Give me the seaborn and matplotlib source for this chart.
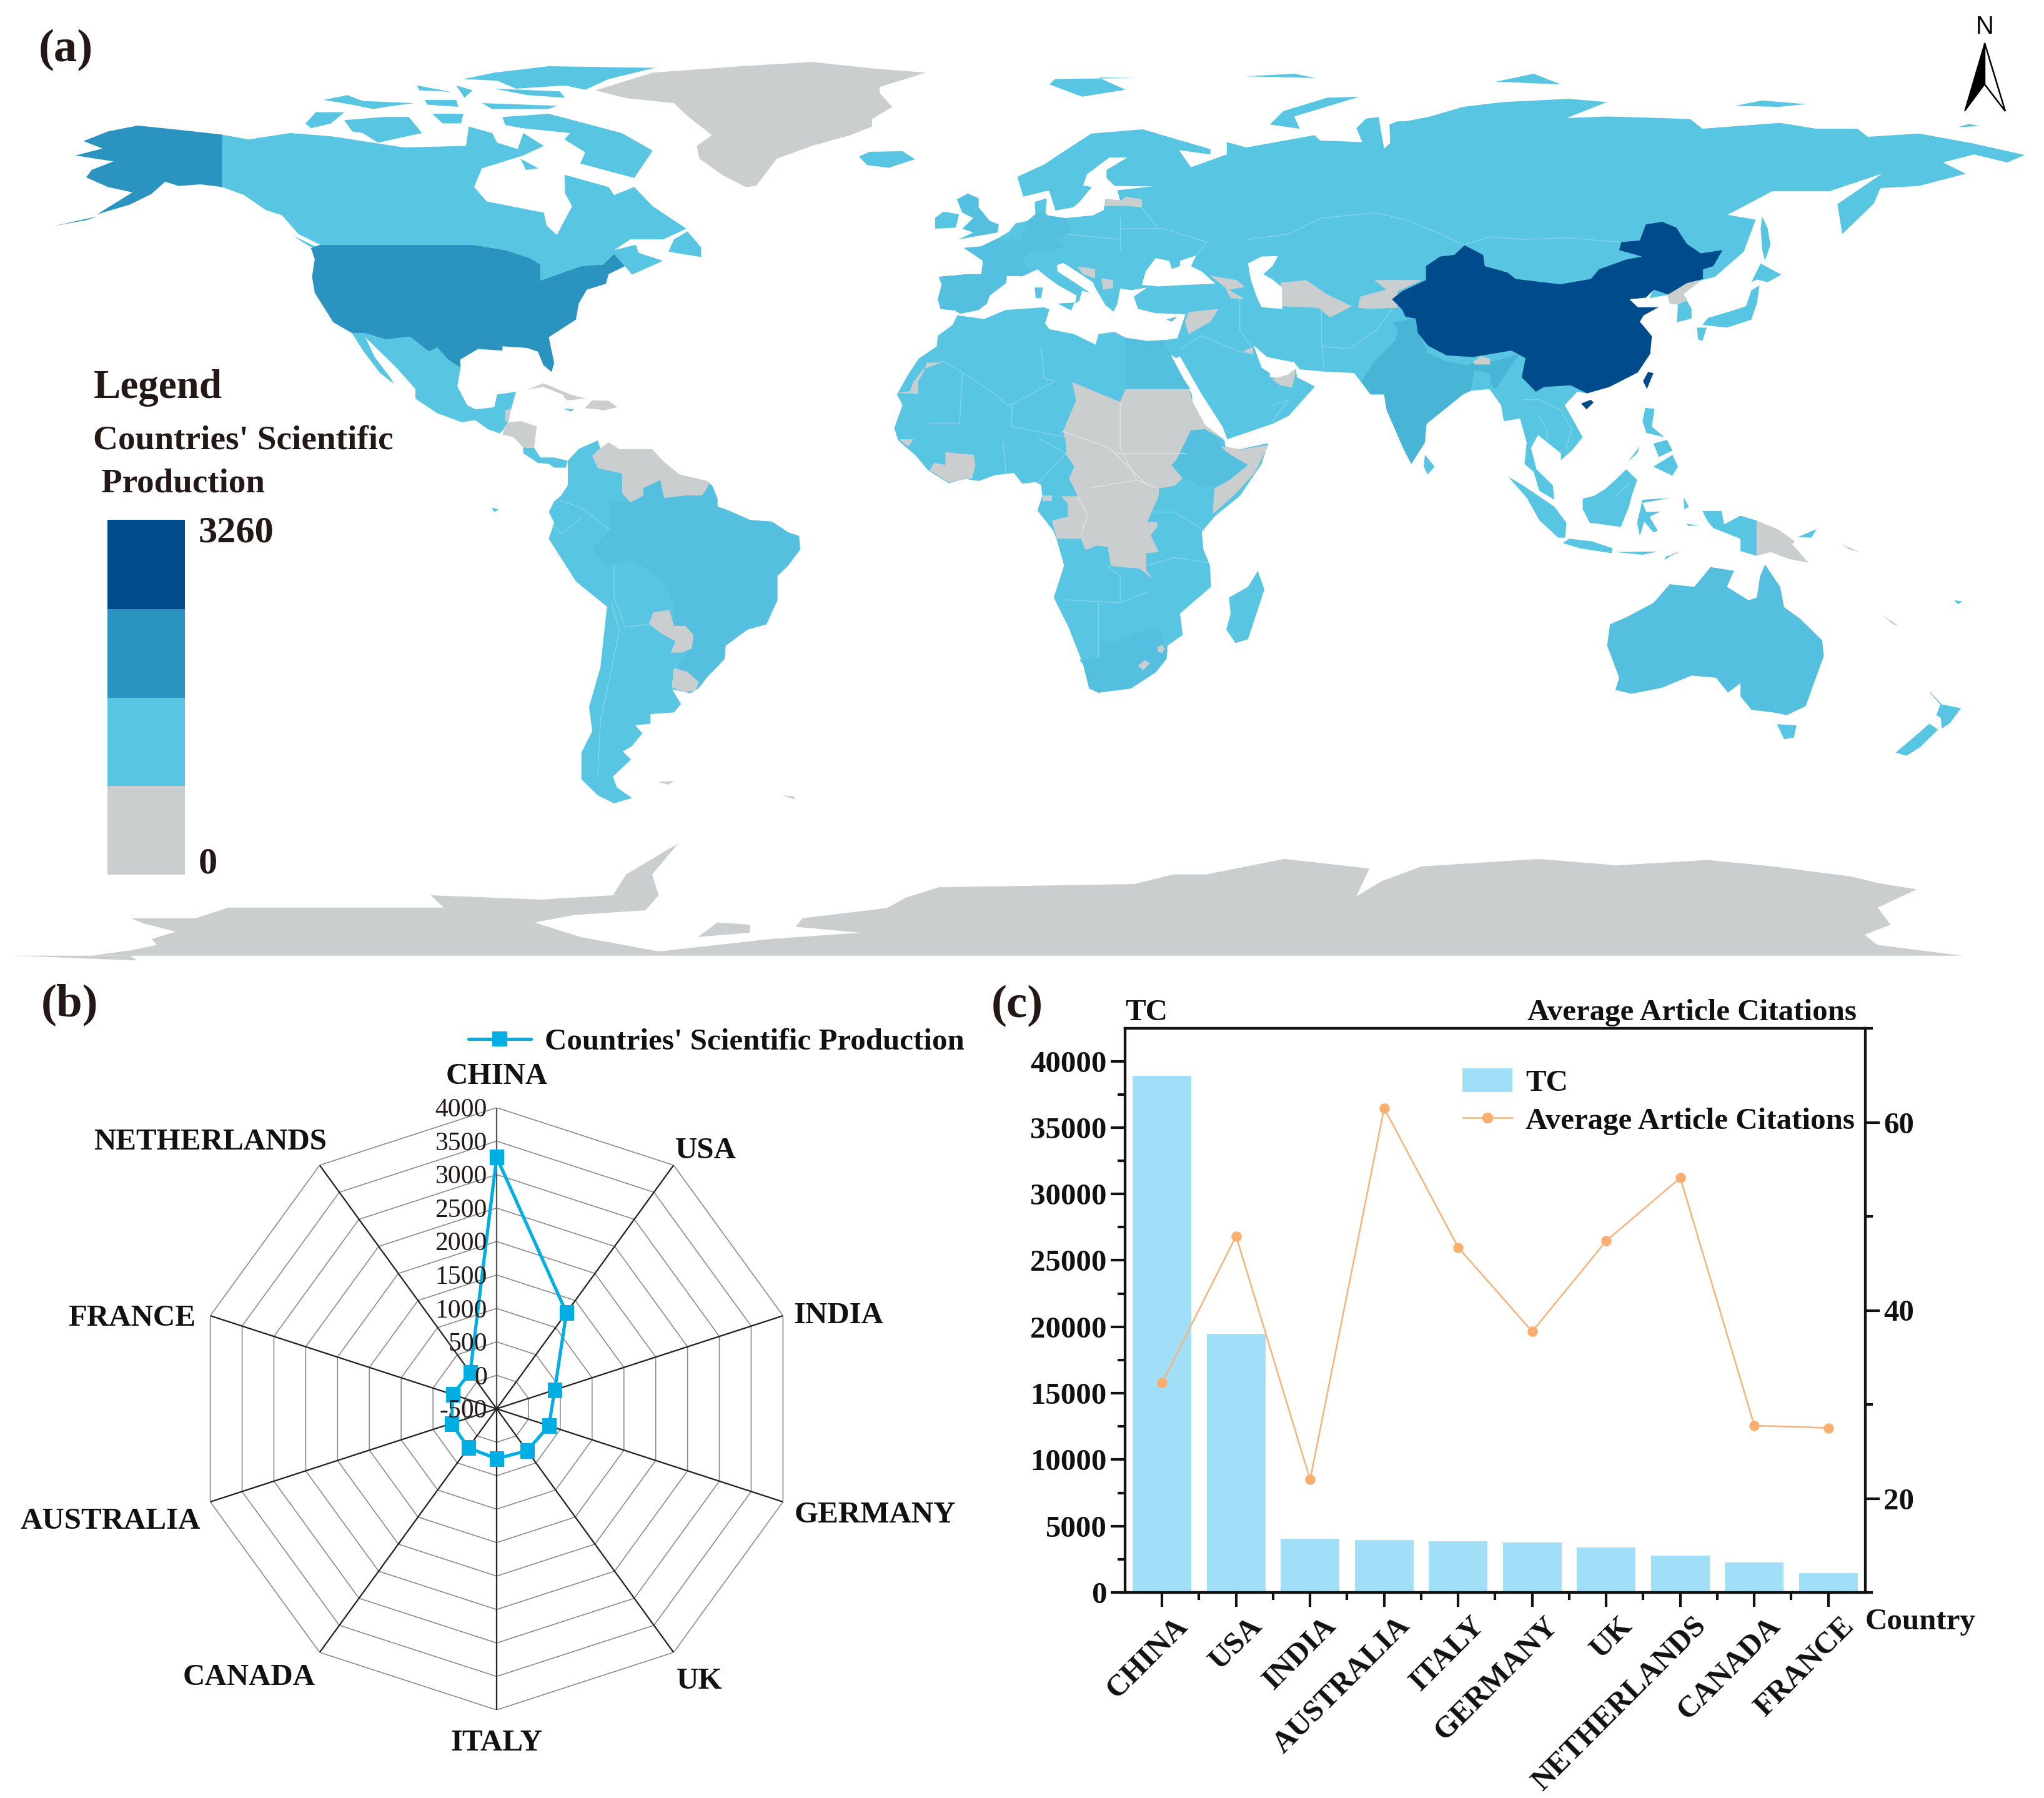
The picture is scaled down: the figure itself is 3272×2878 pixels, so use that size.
import numpy as np
import matplotlib
matplotlib.use("Agg")
import matplotlib.pyplot as plt
from matplotlib.lines import Line2D
from matplotlib.patches import Patch, Rectangle, Polygon
from matplotlib.transforms import ScaledTranslation
import seaborn as sns

# ---------- chart values ----------
RADAR_COUNTRIES = ["CHINA", "USA", "INDIA", "GERMANY", "UK", "ITALY", "CANADA", "AUSTRALIA", "FRANCE", "NETHERLANDS"]
RADAR_VALUES = [3260, 1275, 413, 322, 275, 245, 220, 210, 190, 172]
RADAR_TICKS = [-500, 0, 500, 1000, 1500, 2000, 2500, 3000, 3500, 4000]

BAR_COUNTRIES = ["CHINA", "USA", "INDIA", "AUSTRALIA", "ITALY", "GERMANY", "UK", "NETHERLANDS", "CANADA", "FRANCE"]
TC_VALUES = [39000, 19550, 4150, 4030, 3950, 3870, 3500, 2870, 2350, 1550]
AAC_VALUES = [32.3, 47.9, 22.0, 61.5, 46.7, 37.75, 47.4, 54.1, 27.75, 27.5]

LEGEND_COLORS = ["#004B8B", "#2B93BF", "#58C5E2", "#CBCECE"]
DARK, MID, LIGHT, GREY = LEGEND_COLORS
SHADE = "#55BFDF"
INDIA_C = "#48B5D6"

# ---------- map outlines (longitude, latitude) ----------
ALASKA = [(-141,69.6),(-148,70.4),(-156.5,71.3),(-162,70.2),(-166.5,68.4),(-163,67),(-168,65.7),(-161,64.6),(-165,63),(-166,61.6),(-162,59.8),(-157.5,58.8),(-164,54.7),(-158,56.5),(-154,58.5),(-151.5,60.8),(-149,60),(-145,60.3),(-141,59.8)]
ALEUTIANS = [(-172,52.5),(-164,54.3),(-166,53.6)]
CANADA = [(-141,69.6),(-136.2,68.7),(-128.5,69.9),(-121,69.3),(-107.6,67.2),(-96.2,67.5),(-95.7,71.1),(-91.4,69.9),(-90.5,68.1),(-86.7,66.9),(-85.7,69.9),(-81.9,67.5),(-85.7,65.7),(-93.3,63.3),(-94.7,59.8),(-92.4,57.1),(-81.9,55),(-81.4,52.6),(-79.5,50.8),(-78.6,52.6),(-76.7,56.2),(-78,58.6),(-78.1,62.1),(-70,59.8),(-69,58.3),(-65.3,59.8),(-61.9,56.2),(-55.7,52),(-60,50),(-66,50),(-69,48),(-65,49),(-64.5,47.5),(-60,46),(-65.7,43.4),(-67,45),(-69,47.3),(-71,45.3),(-75,45),(-79,43.6),(-82.5,42.3),(-82.5,45.3),(-84.5,46.5),(-89,48),(-95,49),(-123,49),(-127,51),(-130,54.5),(-133,55.5),(-137,58.3),(-141,59.8)]
BAFFIN = [(-89.5,72.9),(-81,73.5),(-67.6,69.9),(-61.9,66.6),(-65.3,61.5),(-75.2,64.2),(-74.3,66.3),(-78.1,68.7),(-77.1,69.9),(-85.7,70.8),(-89,71.4)]
VICTORIA = [(-118.6,72.3),(-111.4,72.9),(-106.7,72.9),(-104.3,69.9),(-112.4,68.1),(-115.2,69.9),(-117.1,70.2)]
BANKS = [(-125.7,71.7),(-123.8,73.8),(-118.6,73.8),(-121,71.7),(-124.7,70.8)]
ELLESMERE = [(-61.5,82.1),(-81,82.4),(-91,81.2),(-96.7,80),(-90.5,79.7),(-87,78.2),(-78,78.8),(-74.3,78),(-70,80)]
DEVON = [(-93.3,75.5),(-79.5,75),(-81,74.4),(-91.4,74.4)]
SOUTH_ELLESMERE = [(-91,78.2),(-85,77),(-78,76.5),(-79,77.7)]
RINGNES = [(-105.2,78.8),(-99,77.6),(-104.8,77.9)]
AMUND = [(-98,78.8),(-95,77.9),(-96.5,76.5)]
MELVILLE = [(-122.4,76.1),(-118,77),(-115.2,75.9),(-105.7,75.5),(-109.5,75),(-113.3,74.4),(-117.1,75.2)]
BATHURST = [(-103.8,76.1),(-98,76.1),(-97.6,74.8),(-103.3,75.2)]
SOMERSET = [(-102.4,73.5),(-96.7,73.5),(-97.1,71.7),(-100.5,71.7)]
SOUTHAMPTON = [(-86.2,65.1),(-82.9,63.3),(-85.2,63)]
NEWFOUNDLAND = [(-59,47.7),(-53,46.7),(-53,48.5),(-55.5,51.5),(-58,50)]
VANCOUVER = [(-128,50.7),(-123.5,48.5),(-125,48.7)]
USA48 = [(-123,49),(-95,49),(-89,48),(-84.5,46.5),(-82.5,45.3),(-82.5,42.3),(-79,43.6),(-75,45),(-71,45.3),(-69,47.3),(-67,45),(-70,43.5),(-70.5,41.7),(-74,40.6),(-75.5,38),(-76,35),(-81,31.7),(-80,26.9),(-80.5,25.2),(-82,26.5),(-83,29),(-85,29.7),(-89.5,30),(-89.5,29.2),(-94,29.5),(-97.3,27.5),(-97.2,26),(-99.5,27.5),(-101.5,29.8),(-103,29),(-106.5,31.8),(-111,31.3),(-114.8,32.5),(-117.2,32.5),(-120.6,34.5),(-124,40),(-124.5,43),(-124,46.3),(-124.7,48.4)]
MEXICO = [(-117.2,32.5),(-114.8,32.5),(-111,31.3),(-106.5,31.8),(-103,29),(-101.5,29.8),(-99.5,27.5),(-97.2,26),(-97.8,22.5),(-96,19),(-94.5,18.2),(-91,18.6),(-90.5,21),(-87,21.5),(-88,18),(-88.5,16),(-88.5,15.8),(-89.3,14.5),(-90,13.7),(-92.2,14.5),(-94.5,16.2),(-97,15.8),(-101.5,17.5),(-105.5,20.2),(-105.5,22),(-109,26),(-112.5,29.5),(-114.7,31.7),(-113,28),(-110,24),(-109.5,23),(-112,25),(-115,29)]
CENTRAL_GREY = [(-89.3,14.3),(-88.5,15.8),(-86,16),(-83.2,15),(-83.7,11),(-85.7,11.1),(-87.5,13),(-89.5,13.5)]
BELIZE = [(-89,15.9),(-88.3,16),(-88,18.4),(-89,18)]
PANAMA = [(-85.7,11.1),(-83.7,11),(-82.5,9.2),(-80,9.2),(-77.5,8.6),(-77.9,7.3),(-80,7.3),(-81,8),(-83,8.2),(-85.7,10)]
CUBA = [(-84.9,21.9),(-82,23.1),(-77,21),(-74.2,20.2),(-77.7,19.9),(-78.5,21),(-82,22.4)]
HISPANIOLA = [(-74.4,18.4),(-73,19.9),(-70,19.8),(-68.4,18.6),(-71,18),(-72,18.2)]
JAMAICA = [(-78.3,18.4),(-76.3,18.2),(-77,17.8)]
GALAPAGOS = [(-91.5,-0.2),(-90.2,-0.5),(-91,-1)]
FALKLAND = [(-61,-51.5),(-58,-51.3),(-59,-52)]
SOUTH_GEORGIA = [(-38,-54),(-36,-54.2),(-35.7,-54.8)]
SOUTH_AMERICA = [(-77.5,8.6),(-75.5,10.8),(-72,12.4),(-71.5,10.8),(-70,12),(-68,10.7),(-62,10.7),(-60,8.5),(-57,6),(-52,4.8),(-51,4),(-50,1.5),(-50,0),(-48,-0.7),(-44,-2.5),(-40,-2.8),(-37,-4.8),(-35,-5.5),(-34.8,-8),(-37,-11),(-39,-13),(-39,-17.5),(-41,-22),(-44.5,-23),(-48.5,-26),(-48.7,-28.5),(-52,-32),(-53.5,-34),(-55,-34.9),(-58.3,-34.2),(-56.7,-36.9),(-58,-38.5),(-62.3,-38.8),(-62.3,-40.6),(-65.1,-40.9),(-63.8,-42.4),(-65.7,-44.8),(-67.4,-45.8),(-65.9,-47.3),(-69.2,-50.5),(-68.5,-52.5),(-65.7,-54.5),(-69,-55.5),(-72,-54),(-75,-51),(-75,-46),(-73,-42),(-73.6,-37.5),(-71.5,-30),(-70.3,-18.7),(-76,-14),(-81,-6),(-80,-3),(-81,-1),(-80,1),(-78.8,2),(-77.5,4),(-77.5,7)]
BRAZIL = [(-51.5,4.2),(-52.8,2.1),(-55.9,2.1),(-59.8,1.6),(-60.5,5),(-63.6,3.5),(-63.6,2.1),(-66,0.8),(-69.5,1),(-69.5,-4.3),(-73,-7.5),(-70.5,-11),(-65.5,-10),(-60,-14),(-58,-18),(-58,-22.3),(-55.9,-22.3),(-54.4,-24),(-54.7,-26.5),(-57.5,-30),(-53.4,-32.8),(-53.5,-34),(-52,-32),(-48.7,-28.5),(-48.5,-26),(-44.5,-23),(-41,-22),(-39,-17.5),(-39,-13),(-37,-11),(-34.8,-8),(-35,-5.5),(-37,-4.8),(-40,-2.8),(-44,-2.5),(-48,-0.7),(-50,0),(-50,1.5),(-51,4)]
VENEZUELA_GUIANAS = [(-71.7,10.8),(-70,12),(-68,10.7),(-62,10.7),(-60,8.5),(-57,6),(-52,4.8),(-51.5,4.2),(-52.8,2.1),(-55.9,2.1),(-59.8,1.6),(-60.5,5),(-63.6,3.5),(-63.6,2.1),(-66,0.8),(-67.5,2.5),(-67.5,6.2),(-72,7.2),(-73,9.5)]
PARAGUAY = [(-62.6,-21.9),(-61.8,-19.8),(-58.8,-19.3),(-58,-22.3),(-55.9,-22.3),(-54.4,-24),(-54.7,-26.5),(-56.5,-27.3),(-58.6,-27.3),(-57.7,-25.2),(-60.5,-23.6)]
URUGUAY = [(-58,-30.2),(-55.5,-30.9),(-53.4,-32.8),(-54.1,-34.4),(-56.1,-34.7),(-58.4,-33.8)]
GREENLAND = [(-72.4,77.9),(-61.9,81.2),(-45.7,82.4),(-32.6,83.2),(-21.6,82),(-11.7,81.2),(-20.2,78.5),(-20.2,77.4),(-17.9,74.8),(-21.6,72.5),(-21.6,71.1),(-25.6,69.5),(-32.6,67.5),(-39.1,65.1),(-42.9,60),(-44.8,59.8),(-49,62),(-53.3,65.1),(-53.8,67.5),(-51,69.5),(-55.3,72.9),(-58,75.5),(-66.7,76.4)]
ICELAND = [(-24,65.5),(-22,66.4),(-16,66.5),(-13.7,65),(-18.5,63.4),(-22.5,63.9)]
SVALBARD = [(11,79),(17,76.7),(25,78),(20,80.3),(27,80.2),(12,80)]
NOVAYA_ZEMLYA = [(51.5,71.5),(57,70.7),(56,73),(68,76.7),(62,76.5),(54,74)]
FRANZ_JOSEF = [(47,80.5),(60,80.2),(56,81)]
SEVERNAYA = [(93,79.5),(105,79),(100,81)]
NEW_SIBERIA = [(137,75),(145,74.8),(150,75.3),(142,76)]
WRANGEL = [(178,71),(182,71.2),(180,71.6)]
EURASIA = [(-9,37),(-9.5,38.8),(-8.8,41.5),(-9.3,43),(-4,43.5),(-1.5,43.5),(-1.2,46),(-4.7,48.4),(-1.5,48.7),(1.5,50.2),(3.5,51.4),(4.8,53),(8.5,53.8),(8.3,57),(10.5,57.7),(10.3,55),(11,54),(14,54),(19,54.5),(21,55.5),(21.3,57.5),(24,57.2),(23.5,59.2),(28,59.7),(30,59.9),(23,60),(21.5,61.5),(21.5,63),(25.3,65.3),(22,65.3),(17.9,62.2),(17.2,60.1),(18.8,59.8),(16.5,57),(15.4,56),(12.1,55.4),(11,59),(10.6,59.1),(6.2,58),(5.1,61.7),(10,64),(12.8,65.9),(18.7,69.8),(28.2,70.6),(31.8,69.5),(40.6,66.9),(40.6,65.9),(34.8,66.7),(37,63.5),(43.6,65.9),(43.6,68.2),(47.2,67.2),(59.7,69.5),(60.8,68.5),(68.5,68.2),(67.4,70.8),(69.2,72.6),(71.5,72.9),(72.5,67),(73.6,68),(73.5,71.5),(75,72.1),(76.5,72.1),(81,73),(87,74.8),(94.4,75.7),(106.4,76.3),(113.5,75.7),(106,72.7),(113.5,73),(123.6,72.7),(128.8,72.5),(131,70.7),(138.6,71.3),(145.3,71.8),(152,70.7),(159.5,70.7),(161.4,69.2),(170.8,69.8),(180.5,68),(190.2,65.8),(187,64.4),(180.9,65.9),(175.2,64.4),(179.4,62.3),(170.8,60),(163.7,59.6),(162.5,56.7),(156.7,51),(155.8,56.6),(164,62.3),(154.3,59),(143.8,59),(135.6,54.6),(140.8,53.7),(138.6,47.7),(133.3,43),(130.7,42.3),(127.5,39.8),(129,37),(129,35.2),(126.3,34.5),(126.5,37.7),(125,39.7),(121.3,39),(122,40.7),(117.6,38.8),(119.1,37.3),(122.9,37.3),(120.2,35.8),(119.5,34.6),(121.7,31.9),(121.4,28.6),(119.1,25.1),(113.9,22.4),(109.8,21.2),(108,21.5),(105.7,19),(109,13),(107,10.5),(105,8.7),(105,10),(102.5,12),(100.8,13.4),(99.5,11),(100.5,7),(103.5,4),(103.8,1.3),(101,3),(100,6.5),(98.3,8),(98.7,12),(97.5,16.5),(94.5,16),(94,19),(91.5,22.5),(88,21.7),(87,21),(80.3,15.5),(80,12),(77.5,8),(76,11),(73,18),(72.5,21),(70,21),(67,25),(61,25.3),(57,25.7),(56,27),(51,28),(48.5,30.2),(50,26),(51.5,25),(51.5,24.2),(54,24),(56.3,25.8),(56.5,24.2),(59.8,22.5),(55,17),(52,15.5),(43.7,12.6),(42.8,15),(39,21),(35,28.1),(34.3,27.8),(33.2,28.5),(32.6,30),(32.3,31.2),(34.5,31.5),(36,36),(33,36.1),(30.5,36.2),(27.3,37),(26.5,39.3),(29,41),(26,40.5),(24,40.8),(23.5,38),(22.8,36.5),(21.3,37.7),(19.4,41),(19,42),(14.5,45),(13.5,45.6),(12.4,45.2),(12.5,44),(16,41.7),(18.5,40),(17,40.4),(16.5,38.5),(15.7,38),(16,39.5),(12.5,41.5),(10.5,43),(8.8,44.4),(6,43.1),(3.2,43.2),(3,41.8),(0,39.5),(-0.5,38),(-2,36.8),(-5.4,36.1),(-6.3,36.7)]
BLACK_SEA = [(28,41.5),(31,41.2),(36,41.5),(41.5,41.7),(39,44),(37,45),(38,47),(35,46),(35,45),(33.5,44.5),(33,46),(30.5,46.5),(28.7,44)]
CASPIAN = [(47.5,45.5),(50,46.8),(53,46.9),(52,45),(50.3,43.5),(52,42.5),(53.8,41),(53.8,37),(50,37.3),(49,39.5),(48,42.5)]
CHINA = [(73.96,38.8),(75.8,40.3),(80.2,42.4),(80.2,45),(82.8,46.8),(85.4,47.1),(87.3,48.9),(90.7,47.1),(91,45),(95.2,43.8),(96.7,42.6),(104.9,41.6),(110.5,42.6),(112,44.4),(116.9,46.2),(119.9,46.8),(115.7,48),(116.1,49.5),(119.5,49.8),(120.6,52.8),(123.6,53.3),(126.2,52.2),(128.1,49.2),(130.7,47.4),(134.7,48),(133,45),(131.1,44.4),(131.1,42.6),(128.1,41.8),(124.7,39.7),(122.1,40.6),(120.6,39.1),(117.6,38.8),(119.1,37.3),(122.9,37.3),(120.2,35.8),(119.5,34.6),(121.7,31.9),(121.4,28.6),(119.1,25.1),(113.9,22.4),(109.8,21.2),(106.8,22.7),(101.9,22.4),(100.4,21.5),(97.8,24.2),(98.5,27.8),(95.9,29.2),(88.8,28),(84,28.3),(80.6,30.1),(78.7,32.5),(78.3,35.2),(76.45,35.5),(75.8,36.9)]
TAIWAN = [(121,25.2),(122,25),(120.8,22),(120.1,23.5)]
HAINAN = [(108.7,19.3),(110.5,20),(111,19.5),(109.7,18.2)]
INDIA = [(74,34.5),(78.3,35.2),(78.7,32.5),(80.6,29),(88,26.5),(89,27),(92,27),(97.3,28.5),(95,25),(93,22),(92,23),(89,25),(88.5,21.7),(87,21),(80.3,15.5),(80,12),(77.5,8),(76,11),(73,18),(72.5,21),(70,21),(68.3,23.5),(71,27.5),(74.5,31),(75,33)]
BANGLADESH = [(88.5,21.7),(89,25.5),(92,25),(92,22)]
NEPAL = [(80.6,30),(84,28.3),(88.2,27.8),(88.1,26.4),(84,27.2),(80.2,28.8)]
BHUTAN = [(88.9,27.1),(90.3,28.2),(91.9,27.7),(92,26.6),(89.1,26.6)]
NORTH_KOREA = [(124.4,40),(126,41.5),(128,42),(130.7,42.3),(127.5,39.8),(128.3,38.6),(126.5,37.8),(125,38)]
SYRIA = [(36.6,36.4),(42.1,37),(40.6,34.6),(36.6,32.3),(35.9,34.6)]
TURKMENISTAN = [(53.5,41.9),(58.2,42.4),(61.9,39.8),(66.6,37.5),(62.6,35.4),(60.4,37.2),(53.8,37.5),(53.8,40.3)]
KYRGYZ_TAJIK = [(70.7,42.4),(79.5,42.4),(75,40.3),(75,37.2),(70,37),(67.7,37.2),(68.1,39.3),(72.9,40.6)]
CAUCASUS = [(40.6,43.2),(45.4,42.4),(46.9,41.1),(44,40.6),(46.9,38.8),(44.3,39),(43.3,41)]
BOSNIA = [(16.1,44.9),(19.4,44.5),(19.4,42.7),(17.2,43.5)]
MACEDONIA = [(20.5,42.7),(22.7,42.4),(22.7,40.9),(20.9,40.6)]
LATVIA = [(21,56.2),(21.5,57.6),(24.3,57.3),(25,58),(28,57.5),(28,56),(25,56.3)]
UAE = [(51.9,23.85),(54.8,24.7),(56.4,25.9),(55.6,22.3),(53.4,22.7)]
KUWAIT = [(46.6,29.1),(48.4,29.8),(48.4,28.4)]
GERMANY = [(6,51),(7,53.5),(8.5,54.8),(14,54),(15,51),(12,50),(13.8,48.7),(10,47.5),(7.5,47.6),(6,49.5)]
FRANCE = [(-4.7,48.4),(-1.5,48.7),(1.5,50.2),(4,50),(8,49),(7.5,47.6),(6,46),(7.5,43.8),(6,43.1),(3.2,43.2),(3,42.4),(-1.5,43.4),(-1.2,46)]
SPAIN = [(-9,37),(-9.5,38.8),(-8.8,41.5),(-9.3,43),(-4,43.5),(-1.5,43.5),(3,42.4),(3,41.8),(0,39.5),(-0.5,38),(-2,36.8),(-5.4,36.1),(-6.3,36.7)]
SICILY = [(12.5,38),(15.6,38.2),(15,36.7)]
SARDINIA = [(8.3,41),(9.8,41),(9.5,39),(8.5,39)]
CYPRUS = [(32.5,35),(34.5,35.6),(33.5,34.6)]
BRITAIN = [(-5.7,50),(1.5,51.3),(1.7,52.8),(0,53.5),(-2,56),(-2,57.7),(-4,58.6),(-6,57.5),(-5,55),(-3,54),(-5,52),(-3,51.3)]
IRELAND = [(-10,52),(-6.2,52.2),(-5.6,54.7),(-8.5,55.2),(-10,54)]
HONSHU = [(131,34),(135.5,33.5),(140,35),(141,38),(141.5,41.4),(140,40.5),(139,37.5),(136,36.5),(132,35.3)]
KYUSHU = [(130,33.5),(131.8,33.5),(131,31),(130.2,31.3)]
HOKKAIDO = [(140,42),(141.7,45.5),(145.5,43.4),(143,42),(141,42.5)]
SAKHALIN = [(142,54.3),(143,52),(143.5,49),(142.5,46),(142,48),(141.7,52)]
LUZON = [(120.5,18.5),(122.2,18.3),(121.7,15),(124,13),(120.7,13.8),(120,16)]
VISAYAS = [(122,11.8),(124.5,12.5),(125.5,10.5),(123,9.3)]
MINDANAO = [(122,7.5),(125.5,9.7),(126.5,7.5),(125.5,5.8),(124,6.5)]
PALAWAN = [(117.3,8.4),(119.5,11.3),(119,10)]
BORNEO = [(109,1.5),(111,2),(113,3.2),(115,5),(117,7),(119,5),(118,2),(117.5,0),(116,-3.8),(114,-3.5),(110.3,-3),(109,-0.5)]
SUMATRA = [(95.3,5.6),(98,4),(103.8,0),(106,-3),(105.8,-5.8),(104.5,-5.8),(101,-2.5),(98.7,1.7)]
JAVA = [(105.3,-6.8),(106.5,-6),(110.8,-6.5),(114.5,-7.8),(114.3,-8.7),(108.5,-7.8)]
SULAWESI = [(119.5,-5.5),(120.3,-2.8),(122,-4.8),(122.8,-4.5),(121.3,-1.9),(123.3,-0.9),(120.7,-1),(120,0.7),(125,1.6),(120,1.3),(119,-3)]
PAPUA = [(131,-0.8),(134.5,-0.8),(135,-3.3),(138,-1.7),(141,-2.6),(141,-9.2),(138,-8.3),(138,-6),(133,-4),(132,-2.8)]
PNG = [(141,-2.6),(145,-4.3),(148,-6.5),(147.5,-7),(150.5,-10.5),(147,-9.8),(143.5,-8.5),(141,-9.2)]
NEW_BRITAIN = [(148.5,-5.7),(152,-4.2),(151,-5.8)]
SUNDA = [(115,-8.5),(120,-8.4),(122.8,-8.4),(120,-9)]
TIMOR = [(124,-10),(125.5,-9),(124.3,-9.3)]
EAST_TIMOR = [(125,-9.4),(127,-8.4),(125.5,-8.7)]
HALMAHERA = [(127.5,1.8),(128.5,0),(127.7,-0.5)]
CERAM = [(128,-3.2),(130.5,-3.5),(128.5,-3.6)]
SRI_LANKA = [(80,9.7),(81.8,7.5),(80.5,6),(79.8,7.5)]
AUSTRALIA = [(114,-22),(113.5,-26),(115.7,-32),(115,-34.3),(118,-35),(123.5,-33.9),(129,-31.6),(133.5,-32),(135.7,-34.8),(138,-33),(138,-35.5),(140,-38),(144,-38.5),(146.5,-39),(150,-37.3),(151.5,-33),(153.3,-28),(153,-25),(149,-21),(146,-18.8),(145.3,-15),(142.5,-10.8),(141.6,-13),(141,-17),(139.5,-17.5),(135.5,-15),(136.8,-12),(132.5,-11.3),(129.5,-15),(125,-14.5),(122,-18),(117,-20.7)]
TASMANIA = [(144.7,-40.7),(148.3,-40.9),(147.8,-43.2),(146,-43.5)]
NZ_NORTH = [(172.7,-34.5),(175,-37),(178.5,-37.7),(176.5,-40.5),(175,-41.5),(174.8,-39.5),(174,-39),(174.7,-37),(173,-35)]
NZ_SOUTH = [(172.7,-40.6),(174.3,-41.7),(171,-45),(168.5,-46.6),(166.5,-46),(170,-43)]
NEW_CALEDONIA = [(164,-20.2),(167,-22.3),(166,-22)]
FIJI = [(177.3,-17.5),(178.7,-17.7),(178,-18.3)]
SOLOMON = [(156.5,-7),(160,-8.5),(158,-8)]
MADAGASCAR = [(49.3,-12),(50.5,-15.5),(47.5,-24.8),(45.2,-25.5),(43.5,-23),(44.3,-20),(44,-17),(47.5,-15)]
AFRICA = [(-5.9,35.8),(-1,35.1),(3,36.8),(10,37.3),(11,36.9),(10.2,34.3),(11,33.2),(15.5,32.3),(19.5,30.3),(20,32.3),(23,32.7),(25,31.6),(29,31),(32.3,31.2),(32.6,30),(33.6,27.8),(35.6,24),(37.2,21),(37.3,18.6),(39.5,15),(43.2,12.4),(43.3,11.4),(44.5,10.4),(51.2,11.9),(50,8),(46,2),(41.5,-1.7),(39,-4.7),(39.3,-8),(40.5,-11),(40.7,-15),(35,-20),(35.5,-24),(32.7,-26),(32.5,-28.5),(30.5,-31),(26,-34),(20,-34.8),(18.3,-34),(17.2,-29.5),(14.5,-22.5),(11.8,-17),(13.7,-11),(12.3,-6),(11.7,-4.5),(8.8,-0.7),(9.7,2),(9.5,4),(8.5,4.6),(6,4.3),(4.5,6.3),(1,5.9),(-2,4.8),(-4.5,5.2),(-7.5,4.4),(-11.3,6.8),(-13.5,9.5),(-16.8,12.4),(-17.5,14.7),(-16,19),(-17,21),(-14.8,25),(-13,27.7),(-9.7,30),(-9.5,32),(-6.8,34)]
EGYPT = [(25,22),(36.9,22),(35.6,24),(33.6,27.8),(32.6,30),(32.3,31.2),(29,31),(25,31.6)]
ETHIOPIA = [(37,14.3),(39.6,14.5),(42.5,12.1),(42.8,10.7),(47.5,7.8),(44,4.9),(41.9,4.1),(39.3,3.6),(35.5,5.3),(33.4,7.8),(34.3,8.7)]
SOUTH_AFRICA = [(16.5,-28.6),(20,-28.4),(20,-24.8),(23,-25.3),(27,-23.6),(31.3,-22.4),(32,-25.8),(32.7,-26.9),(32.5,-28.5),(30.5,-31),(26,-34),(20,-34.8),(18.3,-34),(17.2,-29.5)]
CENTRAL_AFRICA = [(15.2,23.3),(24,19.6),(25,22),(36.7,22),(37.2,19.9),(39.6,15.3),(43.4,12.4),(39.6,14.5),(37,14.3),(34.3,8.7),(33.4,7.8),(35.5,5.3),(34,3.9),(31.1,3.4),(31.1,2),(29.6,-1.4),(29,-2.9),(29.6,-5.3),(31.1,-8.5),(28.8,-8.7),(28.8,-11.9),(30,-13.5),(27.6,-11.6),(22.3,-11.1),(21.7,-7.5),(19.7,-7.3),(17.6,-8.1),(16.8,-6),(12.4,-6),(11.8,-3.9),(11.5,-2.6),(13,-2.2),(14.4,-1.9),(14.4,0.5),(13.2,1.95),(16.2,1.95),(14.6,5.3),(15.6,7.5),(14.1,9.7),(14.1,11.6),(13.5,14.1),(15.9,19.9)]
EQ_GUINEA = [(9.7,2.05),(11.5,2.05),(11.5,1),(9.7,1)]
IVORY_COAST = [(-11,6.8),(-10.2,8.2),(-8.1,7.8),(-8.1,10.2),(-2.9,9.7),(-2.6,7.8),(-3.2,5.3),(-7.5,4.6)]
GUINEA_BISSAU = [(-16.6,12.6),(-14,12.6),(-14.9,11.2)]
WESTERN_SAHARA = [(-8.7,27),(-11.6,26.9),(-11.9,25.6),(-13.1,23.5),(-13.1,21.1),(-16.9,21.3),(-14.6,21.6),(-14,23.3),(-12.2,25.7)]
SOMALIA = [(42.5,11.2),(44.3,9.7),(47.5,7.8),(44,4.9),(41.3,3.4),(41,-1.4),(45.2,2.4),(48.7,6.3),(51.3,11.6),(49.2,11.2),(46.3,10.7),(43.4,11.2)]
LESOTHO = [(27.3,-29.8),(28.5,-28.7),(29.5,-29.3),(28.2,-30.6)]
ESWATINI = [(30.8,-26.4),(31.7,-25.8),(32.2,-26.6),(31.7,-27.4),(31,-27.1)]
BURUNDI = [(29,-2.9),(30.8,-2.9),(30.8,-3.9),(29.6,-5.3)]
ANTARCTICA = [(-165,-84),(-157.8,-83),(-153,-82),(-154,-80.9),(-149.5,-79.5),(-155.4,-78),(-157.8,-77),(-145.9,-77),(-139.9,-75),(-100.3,-75),(-102.7,-72.7),(-82.4,-73.5),(-69.2,-72.7),(-66.8,-68.8),(-57.2,-63),(-62,-68.8),(-60.8,-72.7),(-63.2,-75.5),(-76.4,-76.4),(-83.6,-77.8),(-75.2,-80.5),(-60.8,-83.2),(-40.4,-80.9),(-23.7,-79.7),(-35.6,-78.6),(-34.4,-77),(-18.9,-75.1),(-15.3,-73.1),(-9.3,-71.2),(26.6,-70.6),(33.8,-68.8),(39.8,-68.8),(54.2,-65.9),(69.8,-67.7),(67.4,-72.9),(72.2,-70),(79.4,-67.3),(100.9,-65.9),(115.3,-67.1),(132,-66.1),(144,-67.3),(158.4,-69.2),(163.2,-70.4),(170.4,-71.6),(163.2,-75),(165.6,-78.2),(160.8,-80.1),(163.2,-82),(178.8,-84)]
BERKNER = [(-50,-77.8),(-44,-78.2),(-44,-79.7),(-53.6,-80.5)]
ANTARCTIC_SLIVER = [(-179.4,-84),(-156.6,-84.9),(-158,-84)]

BORDER_LINES = [
    [(47.5,50),(55,51),(61,54),(71,55),(77,53.5),(83,51),(87,49)],
    [(87,49),(92,50.5),(98,50),(106,50.3),(116,49.5)],
    [(24,52),(32,52),(40,49.5),(38,47)], [(28,56),(31,52)], [(14,51),(24,50)], [(24,54),(24,48)],
    [(61,37),(61,31),(61.5,25.3)], [(61,30),(66,29.5),(71,33),(74,37)], [(46,38.8),(46,33),(48,30)],
    [(35,29.5),(39,32),(46,29),(48.5,28.5)], [(52,19),(55,20),(52,16)],
    [(-8.7,27.3),(-4.8,25),(1.2,20.9),(3.3,19),(4.2,19.2),(12,23.5)], [(-5,25),(-5.5,15.5),(-11.5,15.5)],
    [(4.2,19.2),(4,15),(14,13)], [(9.5,30),(10,24),(12,23.5)], [(2.5,12),(3,6.3)], [(9,12.8),(14,10),(9,4.5)],
    [(13.7,-17.4),(24,-18),(29,-16)], [(20,-18),(20,-28)], [(21.7,-11.1),(24,-13),(24,-17.8)], [(29,-11),(34,-9.5),(40,-10.5)], [(29,-1),(34,-1),(39.5,-4.5)],
    [(-69,-11),(-69,-17),(-67,-22.5),(-62.6,-22)], [(-69.5,-18),(-68,-23),(-70,-33),(-71.5,-40),(-72,-50)], [(-79,1.2),(-75,-0.2),(-70,-4.2)], [(-80.5,-3.4),(-78.5,-5),(-75,-2)],
    [(98,20),(101,20),(105,18),(107,14.5),(106,11)], [(101,17),(102.5,14),(102.5,12)], [(115,2),(117.5,4.2)],
]
WHITE_LINES = [[(24,19.6),(24,11),(27,5)], [(13.5,14.1),(22,11),(29,4)], [(23,10),(36,10)], [(18.5,3.5),(27,5),(31,3.4)], [(16.2,1.95),(18,-1.5),(16.8,-5.5)]]

# ---------- theme ----------
sns.set_theme(style="white")
plt.rcParams["font.family"] = ["Liberation Serif", "DejaVu Serif"]

W, H = 3272, 2878
fig = plt.figure(figsize=(W / 300, H / 300), dpi=300, facecolor="white")
TXT = "#231815"
INK = "#111111"
FS = 11.75
LEG_PROP = {"size": FS, "weight": "bold", "family": "Liberation Serif"}

def px_axes(left, top, right, bottom, **kw):
    return fig.add_axes([left / W, 1 - bottom / H, (right - left) / W, (bottom - top) / H], **kw)

# ---------- (a) map ----------
ax_map = px_axes(0, 0, W, 1560)
ax_map.set_xlim(-181.84, 193.77)
ax_map.set_ylim(-87.54, 94.79)
ax_map.axis("off")

LAYERS = [
    (GREY, [GREENLAND, ANTARCTICA, BERKNER, ANTARCTIC_SLIVER, NEW_CALEDONIA, SOLOMON, FALKLAND, SOUTH_GEORGIA]),
    (LIGHT, [CANADA, BAFFIN, VICTORIA, BANKS, ELLESMERE, SOUTH_ELLESMERE, DEVON, RINGNES, AMUND, MELVILLE, BATHURST, SOMERSET, SOUTHAMPTON, NEWFOUNDLAND, VANCOUVER,
             MEXICO, PANAMA, JAMAICA, GALAPAGOS, SOUTH_AMERICA, ICELAND, SVALBARD, NOVAYA_ZEMLYA, FRANZ_JOSEF, SEVERNAYA, NEW_SIBERIA, WRANGEL, EURASIA, AFRICA,
             SICILY, SARDINIA, CYPRUS, IRELAND, HONSHU, KYUSHU, HOKKAIDO, SAKHALIN, LUZON, VISAYAS, MINDANAO, PALAWAN, BORNEO, SUMATRA, JAVA,
             SULAWESI, PAPUA, SUNDA, TIMOR, HALMAHERA, CERAM, SRI_LANKA, TASMANIA, NZ_NORTH, NZ_SOUTH, MADAGASCAR, FIJI, NEW_BRITAIN]),
    ("white", [BLACK_SEA, CASPIAN]),
    (SHADE, [BRAZIL, GERMANY, FRANCE, SPAIN, BRITAIN, AUSTRALIA, EGYPT, ETHIOPIA, SOUTH_AFRICA]),
    (MID, [ALASKA, ALEUTIANS, USA48]),
    (INDIA_C, [INDIA]),
    (LIGHT, [BANGLADESH, NEPAL]),
    (GREY, [CENTRAL_GREY, BELIZE, CUBA, HISPANIOLA, VENEZUELA_GUIANAS, PARAGUAY, URUGUAY, BHUTAN, NORTH_KOREA, SYRIA, TURKMENISTAN,
            KYRGYZ_TAJIK, CAUCASUS, BOSNIA, MACEDONIA, LATVIA, UAE, KUWAIT, PNG, EAST_TIMOR, CENTRAL_AFRICA, EQ_GUINEA, IVORY_COAST,
            GUINEA_BISSAU, WESTERN_SAHARA, SOMALIA, LESOTHO, ESWATINI, BURUNDI]),
    (DARK, [CHINA, TAIWAN, HAINAN]),
]
for colour, shapes in LAYERS:
    for shape in shapes:
        lon, lat = zip(*shape)
        ax_map.fill(lon, lat, color=colour, lw=0, zorder=2)
for line in BORDER_LINES:
    lon, lat = zip(*line)
    ax_map.plot(lon, lat, color="#86D5EC", lw=0.3, zorder=3)
for line in WHITE_LINES:
    lon, lat = zip(*line)
    ax_map.plot(lon, lat, color="#E4E6E6", lw=0.3, zorder=3)

# ---------- overlay in picture pixels for labels and map furniture ----------
ov = fig.add_axes([0, 0, 1, 1], zorder=5)
ov.set_xlim(0, W)
ov.set_ylim(H, 0)
ov.axis("off")
ov.patch.set_alpha(0)

def label(x, y, s, size=FS, weight="bold", ha="left", va="baseline", color=TXT, **kw):
    ov.text(x, y, s, fontsize=size, fontweight=weight, ha=ha, va=va, color=color, **kw)

label(62, 98, "(a)", size=18)
label(66, 1626, "(b)", size=18)
label(1587, 1628, "(c)", size=18)
label(150, 637, "Legend", size=15.6)
label(149, 719, "Countries' Scientific", size=13.25)
label(162, 788, "Production", size=13.2)
label(318, 867, "3260", size=14.5)
label(318, 1397, "0", size=14.5)
edges = [832, 975, 1117, 1258, 1400]
for c, t, b in zip(LEGEND_COLORS, edges[:-1], edges[1:]):
    ov.add_patch(Rectangle((172, t), 124, b - t, fc=c, ec="none"))

# north arrow
label(3177, 43, "N", size=9.6, weight="normal", ha="center", va="center", color="black", family="Liberation Sans")
ov.add_patch(Polygon([(3177, 69), (3145, 178), (3177, 135)], closed=True, fc="black", ec="black", lw=0.4))
ov.add_patch(Polygon([(3177, 69), (3210, 178), (3177, 135)], closed=True, fc="white", ec="black", lw=0.6))

# ---------- (b) radar ----------
ax_b = px_axes(313, 1773, 1277, 2737, projection="polar")
ax_b.set_theta_zero_location("N")
ax_b.set_theta_direction(-1)
n = len(RADAR_COUNTRIES)
theta = np.arange(n) * 2 * np.pi / n
theta_closed = np.r_[theta, 2 * np.pi]
for tick in RADAR_TICKS[1:]:
    ax_b.plot(theta_closed, np.full(n + 1, tick), color="#8C8C8C", lw=0.4, zorder=1)
for i, t in enumerate(theta):
    ax_b.plot([t, t], [RADAR_TICKS[0], RADAR_TICKS[-1]], color="#222222" if i else "#555555", lw=0.55, zorder=2)
sns.lineplot(x=theta_closed, y=np.r_[RADAR_VALUES, RADAR_VALUES[0]], ax=ax_b, sort=False, estimator=None,
             color="#00AEE4", lw=1.25, marker="s", markersize=5, markeredgecolor="#00AEE4", zorder=4, legend=False)
ax_b.axis("off")
ax_b.set_ylim(RADAR_TICKS[0], RADAR_TICKS[-1])

for tick in RADAR_TICKS:
    py = 2259 - (tick + 500) / 4500 * 482
    label(780, py, str(tick), size=10, weight="normal", ha="right", va="center", zorder=6)

radar_positions = {
    "CHINA": (795, 1723, "center"), "USA": (1081, 1842, "left"), "INDIA": (1270, 2106, "left"),
    "GERMANY": (1272, 2425, "left"), "UK": (1083, 2691, "left"), "ITALY": (795, 2790, "center"),
    "CANADA": (505, 2685, "right"), "AUSTRALIA": (321, 2435, "right"), "FRANCE": (313, 2110, "right"),
    "NETHERLANDS": (523, 1828, "right"),
}
for name in RADAR_COUNTRIES:
    x, y, ha = radar_positions[name]
    label(x, y, name, ha=ha, va="center", color=INK)

fs_px = FS * 300 / 72

# ---------- (c) bars and line ----------
ax_c = px_axes(1801, 1646, 2986, 2549)
BAR_C = "#A1DEF7"
LINE_C = "#F7B27A"
sns.barplot(x=BAR_COUNTRIES, y=TC_VALUES, ax=ax_c, color=BAR_C, saturation=1, width=0.83, errorbar=None, zorder=2)
ax_c.set_xlim(-0.5, 9.5)
ax_c.set_ylim(0, 42470)
ax_c.set_yticks(np.arange(0, 40001, 5000))
ax_c.set_yticks(np.arange(2500, 42000, 5000), minor=True)
ax_c.set_xticks(np.arange(0.5, 9.5, 1), minor=True)
ax_tw = ax_c.twinx()
sns.lineplot(x=BAR_COUNTRIES, y=AAC_VALUES, ax=ax_tw, sort=False, estimator=None, color=LINE_C, lw=0.6,
             marker="o", markersize=3.2, markeredgecolor="#FBAE6E", markerfacecolor="#FBAE6E", zorder=4, legend=False)
ax_c.set_xlim(-0.5, 9.5)
ax_tw.set_ylim(10, 70)
ax_tw.set_yticks([20, 40, 60])
ax_tw.set_yticks([10, 30, 50, 70], minor=True)
ax_tw.grid(False)
ax_c.grid(False)
ax_c.set_xlabel("")
ax_c.set_ylabel("")
ax_tw.set_ylabel("")
for a in (ax_c, ax_tw):
    for s in a.spines.values():
        s.set_visible(True)
        s.set_linewidth(1.0)
        s.set_color(INK)
ax_c.tick_params(axis="y", which="major", direction="out", left=True, length=5.5, width=1, pad=1.5, color=INK)
ax_c.tick_params(axis="y", which="minor", direction="out", left=True, length=2.8, width=1, color=INK)
ax_c.tick_params(axis="x", which="major", direction="out", bottom=True, length=5.5, width=1, pad=2, color=INK)
ax_c.tick_params(axis="x", which="minor", direction="out", bottom=True, length=2.8, width=1, color=INK)
ax_tw.tick_params(axis="y", which="major", direction="out", right=True, length=5.5, width=1, pad=1.5, color=INK)
ax_tw.tick_params(axis="y", which="minor", direction="out", right=True, length=2.8, width=1, color=INK)
for t in ax_c.get_yticklabels() + ax_tw.get_yticklabels():
    t.set_fontsize(FS)
    t.set_fontweight("bold")
    t.set_color(INK)
offset = ScaledTranslation(19 / 300, 0, fig.dpi_scale_trans)
ax_c.set_xticks(range(len(BAR_COUNTRIES)))
ax_c.set_xticklabels(BAR_COUNTRIES, rotation=45, ha="right", rotation_mode="anchor", fontsize=FS, fontweight="bold", color=INK)
for t in ax_c.get_xticklabels():
    t.set_transform(t.get_transform() + offset)

label(1801, 1633, "TC", color=INK)
label(2972, 1633, "Average Article Citations", ha="right", color=INK)
label(2986, 2596, "Country", va="center", color=INK)

# ---------- legends ----------
leg_b = ov.legend(handles=[Line2D([0], [0], color="#00AEE4", lw=1.25, marker="s", markersize=5, markeredgecolor="#00AEE4")],
                  labels=["Countries' Scientific Production"], loc="center left", bbox_to_anchor=(750 / W, 1 - 1668 / H),
                  bbox_transform=fig.transFigure, frameon=False, borderpad=0, borderaxespad=0,
                  handlelength=100 / fs_px, handletextpad=22 / fs_px, prop=LEG_PROP, labelcolor=INK)
ov.add_artist(leg_b)
ov.legend(handles=[Patch(fc=BAR_C, ec="none"),
                   Line2D([0], [0], color=LINE_C, lw=0.6, marker="o", markersize=3.2, markerfacecolor="#FBAE6E", markeredgecolor="#FBAE6E")],
          labels=["TC", "Average Article Citations"], loc="upper left", bbox_to_anchor=(2341 / W, 1 - 1710 / H),
          bbox_transform=fig.transFigure, frameon=False, borderpad=0, borderaxespad=0,
          handlelength=80 / fs_px, handleheight=40 / fs_px, handletextpad=21 / fs_px, labelspacing=0.3,
          prop=LEG_PROP, labelcolor=INK)

fig.savefig("out.png", dpi=300, facecolor="white")
